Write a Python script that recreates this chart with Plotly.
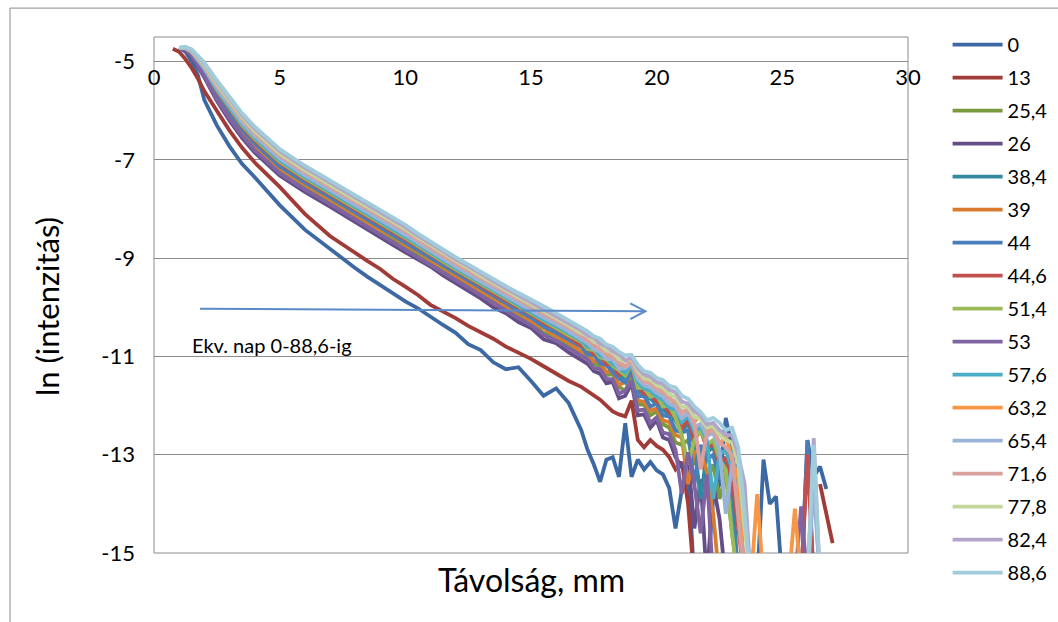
import plotly.graph_objects as go

N = None  # no reading at this distance -> gap in the line

# distance from the surface, mm
dist_mm = [0.75, 1.0, 1.25, 1.5, 1.75, 2.0, 2.5, 3.0, 3.5, 4.0,
           5.0, 6.0, 7.0,
           8.0, 8.5, 9.0, 9.5, 10.0, 10.5, 11.0, 11.5, 12.0, 12.5, 13.0, 13.5, 14.0, 14.5, 15.0, 15.5, 16.0, 16.5,
           17.0, 17.25, 17.5, 17.75, 18.0, 18.25, 18.5, 18.75, 19.0, 19.25, 19.5, 19.75, 20.0, 20.25, 20.5, 20.75, 21.0, 21.25, 21.5, 21.75,
           22.0, 22.25, 22.5, 22.75, 23.0, 23.25, 23.5, 23.75, 24.0, 24.25, 24.5, 24.75, 25.0, 25.25, 25.5, 25.75, 26.0, 26.25, 26.5, 26.75, 27.0]

# ln(intensity) profiles, one per equivalent day
ln_0 = [N, -4.72, -4.80, -5.00, -5.28, -5.78, -6.30, -6.72, -7.08, -7.35,
        -7.92, -8.42, -8.82,
        -9.20, -9.38, -9.55, -9.72, -9.88, -10.02, -10.20, -10.36, -10.52, -10.75, -10.87, -11.12, -11.26, -11.22, -11.50, -11.80, -11.65, -11.95,
        -12.50, -12.90, -13.20, -13.55, -13.10, -13.05, -13.45, -12.36, -13.45, -13.10, -13.30, -13.15, -13.32, -13.40, -13.68, -14.50, -13.72, -13.30, -15.60, N,
        -15.60, -13.90, -13.60, -12.25, -12.85, -13.60, -15.60, N, -15.60, -13.10, -14.00, -13.85, -15.60, N, N, -15.60, -12.70, -13.45, -13.24, -13.70, N]

ln_13 = [-4.74, -4.80, -4.95, -5.13, -5.35, -5.60, -6.00, -6.40, -6.75, -7.05,
         -7.55, -8.10, -8.55,
         -8.90, -9.06, -9.22, -9.42, -9.58, -9.75, -9.95, -10.08, -10.22, -10.38, -10.50, -10.64, -10.80, -10.92, -11.05, -11.20, -11.36, -11.50,
         -11.62, -11.70, -11.80, -11.88, -12.00, -12.12, -12.18, -12.22, -11.90, -12.70, -12.85, -12.70, -12.82, -12.90, -13.05, -13.30, -13.15, -14.00, -15.60, N,
         N, N, N, N, N, N, N, N, N, N, N, N, N, N, N, N, N, N, -13.60, -14.20, -14.80]

ln_25_4 = [N, -4.72, -4.75, -4.87, -5.06, -5.26, -5.72, -6.10, -6.45, -6.74,
           -7.21, -7.54, -7.84,
           -8.16, -8.32, -8.45, -8.62, -8.76, -8.93, -9.06, -9.25, -9.39, -9.56, -9.70, -9.89, -10.00, -10.18, -10.30, -10.52, -10.60, -10.80,
           -10.95, -11.02, -11.15, -11.20, -11.38, -11.36, -11.62, -11.70, -11.40, -11.98, -11.98, -12.20, -12.12, -12.38, -12.45, -12.75, -12.80, -12.70, -13.20, -13.00,
           -13.50, -13.20, -13.90, -13.40, -14.60, -15.60, N, N, N, N, N, N, N, N, N, N, N, N, N, N, N]

ln_26 = [N, -4.72, -4.76, -4.90, -5.10, -5.32, -5.80, -6.20, -6.55, -6.85,
         -7.32, -7.65, -7.95,
         -8.27, -8.43, -8.57, -8.73, -8.88, -9.03, -9.17, -9.35, -9.50, -9.67, -9.82, -10.00, -10.12, -10.30, -10.42, -10.65, -10.73, -10.92,
         -11.08, -11.15, -11.30, -11.35, -11.55, -11.52, -11.85, -11.80, -11.55, -12.20, -12.18, -12.45, -12.30, -12.65, -12.70, -13.05, -13.25, -13.05, -14.50, -13.50,
         -15.60, -13.60, -14.30, -15.60, N, N, N, N, N, N, N, N, N, N, N, N, N, N, N, N, N]

ln_38_4 = [N, -4.72, -4.74, -4.84, -5.01, -5.19, -5.62, -6.00, -6.34, -6.63,
           -7.09, -7.43, -7.73,
           -8.04, -8.20, -8.33, -8.49, -8.64, -8.81, -8.95, -9.13, -9.27, -9.44, -9.58, -9.76, -9.88, -10.06, -10.17, -10.38, -10.47, -10.66,
           -10.75, -10.92, -10.93, -11.08, -11.15, -11.25, -11.38, -11.45, -11.28, -11.68, -11.82, -11.86, -11.98, -12.06, -12.22, -12.30, -12.55, -12.35, -12.80, -13.90,
           -12.95, -12.85, -13.30, -13.10, -13.60, -15.60, N, N, N, N, N, N, N, N, N, N, N, N, N, N, N]

ln_39 = [N, -4.72, -4.74, -4.86, -5.04, -5.24, -5.68, -6.07, -6.41, -6.70,
         -7.17, -7.50, -7.80,
         -8.12, -8.26, -8.43, -8.55, -8.73, -8.86, -9.04, -9.18, -9.36, -9.50, -9.68, -9.81, -9.99, -10.11, -10.28, -10.42, -10.59, -10.71,
         -10.90, -10.95, -11.10, -11.12, -11.32, -11.30, -11.58, -11.52, -11.35, -11.90, -11.92, -12.10, -12.06, -12.30, -12.34, -12.60, -12.65, -13.60, -12.95, -12.90,
         -13.35, -14.20, -15.60, N, N, N, N, N, N, N, N, N, N, N, N, N, N, N, N, N, N]

ln_44 = [N, -4.72, -4.74, -4.85, -5.02, -5.21, -5.65, -6.03, -6.37, -6.66,
         -7.13, -7.46, -7.76,
         -8.07, -8.22, -8.37, -8.52, -8.68, -8.83, -8.99, -9.15, -9.31, -9.47, -9.62, -9.78, -9.92, -10.07, -10.21, -10.39, -10.52, -10.67,
         -10.80, -10.96, -10.97, -11.14, -11.18, -11.32, -11.45, -11.53, -11.30, -11.82, -11.80, -12.02, -11.96, -12.20, -12.22, -12.50, -12.55, -12.50, -13.60, -12.80,
         -13.10, -13.00, -13.50, -13.20, -14.30, -15.60, N, N, N, N, N, N, N, N, N, -15.60, -12.70, -15.60, N, N, N]

ln_44_6 = [N, -4.72, -4.73, -4.83, -4.99, -5.18, -5.60, -5.97, -6.31, -6.60,
           -7.06, -7.40, -7.70,
           -8.01, -8.16, -8.30, -8.45, -8.61, -8.77, -8.93, -9.09, -9.25, -9.40, -9.56, -9.71, -9.86, -10.00, -10.15, -10.31, -10.44, -10.60,
           -10.78, -10.82, -10.95, -10.98, -11.16, -11.15, -11.38, -11.34, -11.22, -11.62, -11.76, -11.78, -11.92, -11.98, -12.14, -12.24, -12.46, -12.28, -12.70, -12.50,
           -12.88, -12.75, -13.20, -13.05, -13.50, -14.50, -15.60, N, N, N, N, N, N, N, N, -15.60, -13.00, -15.60, N, N, N]

ln_51_4 = [N, -4.72, -4.73, -4.82, -4.99, -5.16, -5.58, -5.95, -6.29, -6.57,
           -7.04, -7.37, -7.67,
           -7.98, -8.13, -8.28, -8.42, -8.59, -8.75, -8.90, -9.07, -9.23, -9.38, -9.53, -9.69, -9.83, -9.98, -10.12, -10.29, -10.42, -10.57,
           -10.70, -10.85, -10.87, -11.02, -11.06, -11.19, -11.28, -11.39, -11.15, -11.64, -11.64, -11.82, -11.78, -12.02, -12.00, -12.25, -12.60, -13.20, -12.70, -12.50,
           -12.80, -12.70, -13.10, -13.30, -14.60, -15.60, N, N, N, N, N, N, N, N, N, N, N, N, N, N, N]

ln_53 = [N, -4.72, -4.75, -4.88, -5.08, -5.29, -5.76, -6.15, -6.50, -6.80,
         -7.27, -7.60, -7.90,
         -8.21, -8.37, -8.52, -8.66, -8.82, -8.97, -9.13, -9.29, -9.45, -9.61, -9.76, -9.92, -10.06, -10.22, -10.36, -10.56, -10.68, -10.84,
         -11.00, -11.06, -11.24, -11.26, -11.46, -11.46, -11.76, -11.70, -11.50, -12.10, -12.08, -12.35, -12.24, -12.55, -12.58, -12.90, -13.80, -12.95, -13.60, -14.60,
         -13.40, -15.60, N, N, N, N, N, N, N, N, N, N, N, N, -15.60, -14.05, -15.60, N, N, N, N]

ln_57_6 = [N, -4.72, -4.73, -4.81, -4.97, -5.15, -5.56, -5.92, -6.26, -6.54,
           -7.01, -7.34, -7.64,
           -7.95, -8.10, -8.24, -8.39, -8.56, -8.72, -8.87, -9.04, -9.20, -9.35, -9.50, -9.66, -9.80, -9.94, -10.09, -10.25, -10.38, -10.54,
           -10.68, -10.80, -10.83, -10.98, -11.03, -11.15, -11.25, -11.33, -11.15, -11.52, -11.66, -11.69, -11.82, -11.88, -12.04, -12.08, -12.34, -12.21, -12.54, -12.42,
           -12.70, -13.90, -13.00, -12.90, -13.30, -13.90, -15.60, N, N, N, N, N, N, N, N, N, -15.60, -13.40, -15.60, N, N]

ln_63_2 = [N, -4.72, -4.72, -4.80, -4.95, -5.11, -5.51, -5.86, -6.20, -6.48,
           -6.94, -7.28, -7.58,
           -7.89, -8.04, -8.17, -8.32, -8.49, -8.66, -8.81, -8.98, -9.14, -9.28, -9.44, -9.59, -9.74, -9.80, -10.02, -10.17, -10.22, -10.46,
           -10.60, -10.70, -10.78, -10.85, -10.98, -11.02, -11.18, -11.20, -11.08, -11.42, -11.40, -11.44, -11.64, -11.75, -11.83, -11.97, -12.13, -12.09, -12.33, -12.18,
           -12.55, -12.42, -12.80, -12.60, -13.10, -13.50, -15.60, -15.60, -13.80, -15.60, N, N, N, -15.60, -14.10, -15.60, N, N, N, N, N]

ln_65_4 = [N, -4.72, -4.72, -4.80, -4.96, -5.13, -5.53, -5.89, -6.23, -6.51,
           -6.97, -7.31, -7.61,
           -7.92, -8.07, -8.21, -8.36, -8.52, -8.69, -8.84, -9.01, -9.17, -9.31, -9.47, -9.62, -9.77, -9.91, -10.06, -10.21, -10.34, -10.50,
           -10.66, -10.73, -10.85, -10.90, -11.05, -11.06, -11.25, -11.24, -11.14, -11.46, -11.59, -11.63, -11.74, -11.82, -11.96, -12.02, -12.26, -12.15, -12.44, -12.37,
           -12.62, -12.55, -12.90, -14.20, -13.20, -13.10, -14.00, -15.60, N, N, N, N, N, N, N, N, -15.60, -13.60, -15.60, N, N]

ln_71_6 = [N, -4.72, -4.71, -4.79, -4.93, -5.09, -5.48, -5.84, -6.17, -6.45,
           -6.91, -7.25, -7.55,
           -7.85, -8.00, -8.14, -8.29, -8.45, -8.63, -8.78, -8.95, -9.11, -9.25, -9.40, -9.55, -9.70, -9.84, -9.99, -10.13, -10.27, -10.42,
           -10.56, -10.68, -10.72, -10.86, -10.91, -11.02, -11.10, -11.20, -11.10, -11.38, -11.51, -11.55, -11.66, -11.71, -11.86, -11.92, -12.16, -12.06, -12.34, -13.30,
           -12.55, -12.50, -12.75, -12.85, -13.00, -14.20, -15.60, N, N, N, N, N, N, N, N, N, N, N, N, N, N]

ln_77_8 = [N, -4.72, -4.71, -4.77, -4.92, -5.07, -5.45, -5.80, -6.13, -6.41,
           -6.87, -7.21, -7.51,
           -7.81, -7.96, -8.09, -8.24, -8.41, -8.58, -8.74, -8.90, -9.06, -9.21, -9.36, -9.51, -9.66, -9.79, -9.94, -10.08, -10.22, -10.37,
           -10.53, -10.58, -10.70, -10.75, -10.88, -10.91, -11.06, -11.10, -11.04, -11.30, -11.45, -11.47, -11.59, -11.63, -11.77, -11.82, -12.03, -12.02, -12.23, -12.27,
           -12.45, -12.42, -12.60, -12.70, -12.75, -13.20, -14.50, -15.60, N, N, N, N, N, N, N, N, N, N, N, N, N]

ln_82_4 = [N, -4.72, -4.71, -4.76, -4.90, -5.04, -5.41, -5.76, -6.09, -6.36,
           -6.82, -7.16, -7.46,
           -7.76, -7.91, -8.05, -8.20, -8.37, -8.54, -8.69, -8.86, -9.02, -9.16, -9.31, -9.47, -9.61, -9.75, -9.90, -10.03, -10.17, -10.32,
           -10.47, -10.57, -10.62, -10.74, -10.79, -10.90, -10.96, -11.08, -11.02, -11.24, -11.37, -11.41, -11.52, -11.56, -11.68, -11.73, -11.92, -11.96, -12.12, -12.20,
           -12.38, -12.35, -12.50, -12.60, -12.60, -13.00, -13.60, -15.60, N, N, N, N, N, N, N, N, -15.60, -12.66, -15.60, N, N]

ln_88_6 = [N, -4.72, -4.70, -4.75, -4.88, -5.02, -5.38, -5.72, -6.05, -6.32,
           -6.78, -7.12, -7.42,
           -7.72, -7.87, -8.00, -8.15, -8.32, -8.50, -8.65, -8.82, -8.98, -9.12, -9.27, -9.42, -9.57, -9.70, -9.85, -9.98, -10.12, -10.27,
           -10.42, -10.49, -10.59, -10.64, -10.76, -10.80, -10.91, -10.98, -10.97, -11.17, -11.30, -11.33, -11.44, -11.48, -11.60, -11.63, -11.80, -11.86, -12.02, -12.13,
           -12.30, -12.25, -12.35, -12.50, -12.45, -12.85, -14.20, -15.60, N, N, N, N, N, N, N, N, -15.60, -12.80, -15.60, N, N]

series_names = ["0", "13", "25,4", "26", "38,4", "39", "44", "44,6", "51,4",
                "53", "57,6", "63,2", "65,4", "71,6", "77,8", "82,4", "88,6"]
series_values = [ln_0, ln_13, ln_25_4, ln_26, ln_38_4, ln_39, ln_44, ln_44_6, ln_51_4,
                 ln_53, ln_57_6, ln_63_2, ln_65_4, ln_71_6, ln_77_8, ln_82_4, ln_88_6]

# axis ticks
x_ticks = [0, 5, 10, 15, 20, 25, 30]
y_ticks = [-15, -13, -11, -9, -7, -5]
y_tick_text = ["-15", "-13", "-11", "-9", "-7", "-5"]

line_colors = ["#3C69A4", "#A13B38", "#7A9A3E", "#654E87", "#338AA0", "#DA7C30",
               "#4A7EBB", "#C0504D", "#9BBB59", "#8064A2", "#4BACC6", "#F79646",
               "#9BB3D6", "#D9A09E", "#C3D69B", "#B3A5C9", "#A0CCDC"]

for vals in series_values:
    assert len(vals) == len(dist_mm)

FONT = "Lato, 'Open Sans', sans-serif"
GRID = "#8C8C8C"

fig = go.Figure()
for name, vals, col in zip(series_names, series_values, line_colors):
    fig.add_trace(go.Scatter(
        x=dist_mm, y=vals, mode="lines", name=name, legendgroup=name,
        line=dict(color=col, width=3.8), connectgaps=False,
    ))

Y_MIN, Y_MAX = -15, -4.5

fig.update_layout(
    width=1058, height=622, autosize=False,
    margin=dict(l=154, r=150, t=37, b=69, autoexpand=False),
    paper_bgcolor="white", plot_bgcolor="white",
    font=dict(family=FONT, size=22, color="black"),
    showlegend=True,
    legend=dict(x=1.0525, xanchor="left", y=1.023, yanchor="top",
                font=dict(family=FONT, size=20, color="black"),
                tracegroupgap=4, itemwidth=50, maxheight=600,
                bgcolor="rgba(0,0,0,0)", borderwidth=0),
    xaxis=dict(range=[0, 30], tickvals=x_ticks, showgrid=False, zeroline=False,
               showline=False, ticks="", anchor="free",
               position=(-5 - Y_MIN) / (Y_MAX - Y_MIN),
               tickfont=dict(family=FONT, size=22, color="black")),
    yaxis=dict(range=[Y_MIN, Y_MAX], tickvals=y_ticks, ticktext=y_tick_text,
               showgrid=True, gridcolor=GRID, gridwidth=1, zeroline=False,
               showline=False, ticks="", ticklabelstandoff=18,
               tickfont=dict(family=FONT, size=22, color="black")),
)

# plot-area frame and outer chart frame
fig.add_shape(type="rect", xref="paper", yref="paper", x0=0, x1=1, y0=0, y1=1,
              line=dict(color=GRID, width=1), layer="below")
fig.add_shape(type="rect", xref="paper", yref="paper", x0=-0.191, x1=1.4, y0=-0.3, y1=1.056,
              line=dict(color=GRID, width=1), layer="below")

# arrow showing the direction of increasing equivalent day
ARROW = "#5A8BC8"
fig.add_shape(type="line", xref="x", yref="y", x0=1.83, y0=-10.03, x1=19.55, y1=-10.08,
              line=dict(color=ARROW, width=2))
fig.add_shape(type="path", xref="x", yref="y",
              path="M 18.95,-9.92 L 19.55,-10.08 L 18.95,-10.24",
              line=dict(color=ARROW, width=2))

fig.add_annotation(x=1.43, y=-10.76, xref="x", yref="y", text="Ekv. nap 0-88,6-ig",
                   showarrow=False, xanchor="left", yanchor="middle",
                   font=dict(family=FONT, size=20, color="black"))

# axis titles
fig.add_annotation(x=0.5, y=-0.052, xref="paper", yref="paper", text="Távolság, mm",
                   showarrow=False, xanchor="center", yanchor="middle",
                   font=dict(family=FONT, size=32, color="black"))
fig.add_annotation(x=-0.141, y=0.478, xref="paper", yref="paper", text="ln (intenzitás)",
                   showarrow=False, textangle=-90, xanchor="center", yanchor="middle",
                   font=dict(family=FONT, size=31, color="black"))

fig.write_html("out.html", config={"displayModeBar": False})
